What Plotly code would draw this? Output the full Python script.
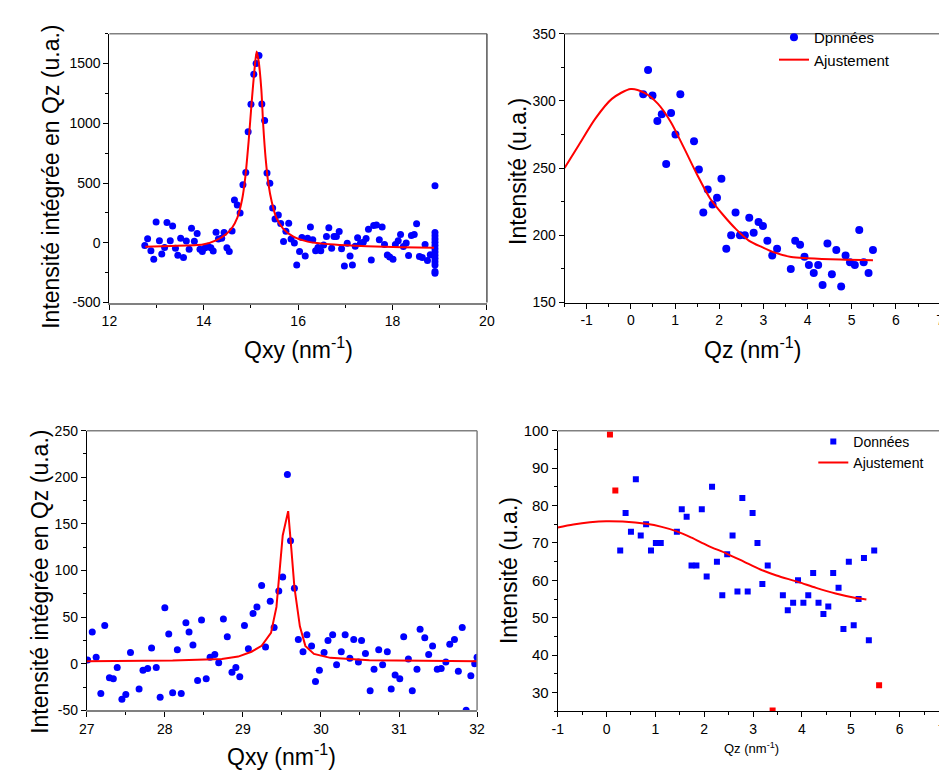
import plotly.graph_objects as go

W, H = 947, 771

# ---------------- Panel 1 (top-left) ----------------
p1_qxy = [12.75, 12.81, 12.88, 12.94, 12.99, 13.06, 13.11, 13.17, 13.22, 13.29, 13.34, 13.40,
          13.45, 13.51, 13.57, 13.63, 13.69, 13.74, 13.80, 13.86, 13.92, 13.97, 14.03, 14.09,
          14.15, 14.20, 14.26, 14.31, 14.38, 14.43, 14.49, 14.54, 14.60, 14.65, 14.71, 14.77,
          14.83, 14.89, 14.94, 15.00, 15.06, 15.11, 15.17, 15.23, 15.29, 15.34, 15.40, 15.46,
          15.51, 15.58, 15.63, 15.69, 15.74, 15.80, 15.85, 15.92, 15.97, 16.03, 16.08, 16.15,
          16.20, 16.26, 16.31, 16.37, 16.42, 16.48, 16.54, 16.60, 16.65, 16.71, 16.76, 16.81,
          16.87, 16.92, 16.98, 17.04, 17.10, 17.15, 17.21, 17.26, 17.32, 17.38, 17.44, 17.49,
          17.55, 17.60, 17.66, 17.72, 17.78, 17.83, 17.89, 17.94, 18.01, 18.06, 18.12, 18.17,
          18.23, 18.29, 18.34, 18.40, 18.46, 18.51, 18.57, 18.63, 18.69, 18.74, 18.80,
          18.9, 18.9, 18.9, 18.9, 18.9, 18.9, 18.9, 18.9, 18.9, 18.9, 18.9, 18.9, 18.9, 18.9]
p1_int = [-23, 34, -67, -137, 175, 18, -94, -39, 170, 18, 140, -45,
          -104, 39, -124, 15, -53, 121, 12, 77, -53, -72, -42, -29,
          -42, -69, 88, 31, 39, 86, -42, -72, 99, 358, 317, 249,
          485, 589, 929, 1160, 1410, 1500, 1568, 1162, 1024, 583, 499, 292,
          200, 233, 162, 10, 97, 164, 31, -1, -186, -72, 45, -110,
          39, 132, 26, -67, -39, -67, -18, 53, 126, -45, 53, 53,
          94, -50, -194, -4, -110, -186, -29, 42, -4, 4, 37, 113,
          -143, 145, 148, 26, 132, -15, -102, -118, -137, -15, 18, 69,
          -31, -1, -107, 61, 69, 159, -115, -124, -15, -148, -99,
          477, 86, 58, 31, 4, -23, -50, -77, -105, -132, -159, -186, -240, -254]
p1_fit_qxy = [12.76, 13.3, 13.98, 14.26, 14.47, 14.6, 14.71, 14.81, 14.88, 14.95, 15.02, 15.08,
              15.12, 15.16, 15.22, 15.26, 15.31, 15.37, 15.44, 15.54, 15.68, 15.89, 16.2, 16.76,
              17.45, 18.2, 18.88]
p1_fit_int = [-34, -27, -15, 20, 72, 126, 208, 358, 548, 847, 1200, 1472,
              1600, 1527, 1282, 983, 711, 493, 344, 208, 118, 53, 10, -15,
              -29, -37, -42]

# ---------------- Panel 2 (top-right) ----------------
p2_qz = [0.28, 0.39, 0.49, 0.60, 0.70, 0.80, 0.91, 1.01, 1.12, 1.43, 1.54, 1.64, 1.74, 1.85,
         1.95, 2.05, 2.16, 2.27, 2.37, 2.47, 2.58, 2.68, 2.78, 2.89, 2.99, 3.09, 3.20, 3.31,
         3.62, 3.72, 3.83, 3.93, 4.03, 4.14, 4.24, 4.34, 4.45, 4.55, 4.65, 4.76, 4.86, 4.96,
         5.07, 5.17, 5.27, 5.38, 5.48]
p2_int = [305, 323, 304, 285, 290, 253, 291, 275, 305, 270, 249, 217, 234, 223,
          228, 242, 190, 200, 217, 200, 200, 213, 202, 210, 207, 196, 185, 190,
          175, 196, 193, 184, 178, 172, 178, 163, 194, 171, 189, 162, 185, 180,
          178, 204, 180, 172, 189]
p2_fit_qz = [-1.5, -1.17, -0.80, -0.43, 0.0, 0.31, 0.61, 0.90, 1.20, 1.49, 1.79, 2.08,
             2.38, 2.67, 2.97, 3.26, 3.63, 4.0, 4.74, 5.48]
p2_fit_int = [250.1, 267.6, 287.0, 301.5, 308.8, 305.9, 297.9, 284.5, 265.2, 245.8, 227.6, 215.5,
              204.6, 196.1, 191.2, 187.1, 183.9, 183.0, 182.0, 181.5]

# ---------------- Panel 3 (bottom-left) ----------------
p3_qxy = [27.01, 27.07, 27.12, 27.18, 27.23, 27.29, 27.34, 27.39, 27.45, 27.50, 27.56, 27.67,
          27.72, 27.78, 27.83, 27.89, 27.94, 28.00, 28.05, 28.10, 28.16, 28.21, 28.27, 28.31,
          28.36, 28.42, 28.47, 28.53, 28.58, 28.64, 28.69, 28.75, 28.80, 28.86, 28.91, 28.96,
          29.02, 29.07, 29.13, 29.18, 29.24, 29.29, 29.35, 29.40, 29.46, 29.51, 29.57, 29.61,
          29.66, 29.71, 29.77, 29.82, 29.88, 29.93, 29.98, 30.04, 30.09, 30.15, 30.20, 30.26,
          30.31, 30.37, 30.42, 30.48, 30.52, 30.57, 30.63, 30.68, 30.74, 30.79, 30.85, 30.90,
          30.95, 31.01, 31.06, 31.12, 31.17, 31.23, 31.27, 31.33, 31.38, 31.43, 31.49, 31.54,
          31.60, 31.65, 31.71, 31.76, 31.81, 31.86, 31.92, 31.97, 32.0]
p3_int = [4, 34, 7, -32, 41, -15, -16, -4, -38, -33, 12, -27,
          -7, -5, 17, -4, -36, 60, 32, -31, 15, -32, 44, 34,
          20, -18, 47, -16, 7, 10, 1, 48, 29, -9, -4, -14,
          41, 16, 54, 61, 84, 18, 67, 39, 78, 93, 203, 132,
          81, 26, 13, 31, 19, -19, -7, 12, 25, 31, -1, 13,
          31, 6, 26, 2, 25, 11, -29, -6, 15, -1, 13, -27,
          -12, -16, 29, 5, -29, -6, 37, 28, 10, 19, -6, -5,
          2, 21, 26, -8, 39, -50, -13, 0, 7]
p3_fit_qxy = [27.0, 28.10, 28.73, 28.94, 29.11, 29.24, 29.36, 29.43, 29.51, 29.58,
              29.62, 29.66, 29.73, 29.80, 29.91, 30.12, 30.62, 32.0]
p3_fit_int = [2.8, 3.5, 5.2, 7.7, 12.9, 19.2, 33.1, 61.0, 137.6, 163.7,
              123.7, 81.9, 40.1, 19.2, 10.5, 6.3, 3.8, 2.8]

# ---------------- Panel 4 (bottom-right) ----------------
p4_qz = [0.28, 0.39, 0.50, 0.60, 0.70, 0.81, 0.91, 1.01, 1.11, 1.44, 1.54, 1.64, 1.74, 1.84,
         1.95, 2.05, 2.16, 2.26, 2.37, 2.47, 2.58, 2.68, 2.78, 2.89, 2.99, 3.09, 3.19, 3.30,
         3.61, 3.71, 3.82, 3.92, 4.03, 4.13, 4.23, 4.34, 4.44, 4.54, 4.64, 4.75, 4.85, 4.96,
         5.06, 5.16, 5.27, 5.37, 5.48]
p4_int = [68, 78, 73, 87, 72, 75, 68, 70, 70, 73, 79, 77, 64, 64,
          79, 61, 85, 65, 56, 67, 72, 57, 82, 57, 78, 70, 59, 64,
          56, 52, 54, 60, 54, 56, 62, 54, 51, 53, 62, 58, 47, 65,
          48, 55, 66, 44, 68]
p4_masked_qz = [0.07, 0.18, 3.40, 5.58]
p4_masked_int = [99, 84, 25.2, 32]
p4_fit_qz = [-1.0, -0.68, -0.34, -0.01, 0.33, 0.81, 1.13, 1.44, 1.74, 2.07, 2.47, 2.81,
             3.15, 3.48, 3.92, 4.29, 4.69, 5.03, 5.32]
p4_fit_int = [74.1, 74.9, 75.5, 75.8, 75.7, 75.1, 74.3, 73.1, 71.4, 69.3, 67.1, 65.0,
              62.9, 61.3, 59.6, 58.0, 56.5, 55.5, 54.9]

# ---------------- tick labels ----------------
p1_xticks = [12, 14, 16, 18, 20]
p1_xlabels = ["12", "14", "16", "18", "20"]
p1_yticks = [-500, 0, 500, 1000, 1500]
p1_ylabels = ["-500", "0", "500", "1000", "1500"]
p2_xticks = [-1, 0, 1, 2, 3, 4, 5, 6, 7]
p2_xlabels = ["-1", "0", "1", "2", "3", "4", "5", "6", "7"]
p2_yticks = [150, 200, 250, 300, 350]
p2_ylabels = ["150", "200", "250", "300", "350"]
p3_xticks = [27, 28, 29, 30, 31, 32]
p3_xlabels = ["27", "28", "29", "30", "31", "32"]
p3_yticks = [-50, 0, 50, 100, 150, 200, 250]
p3_ylabels = ["-50", "0", "50", "100", "150", "200", "250"]
p4_xticks = [-1, 0, 1, 2, 3, 4, 5, 6]
p4_xlabels = ["-1", "0", "1", "2", "3", "4", "5", "6"]
p4_last_xlabel = "7"
p4_yticks = [30, 40, 50, 60, 70, 80, 90, 100]
p4_ylabels = ["30", "40", "50", "60", "70", "80", "90", "100"]

# ---------------- labels ----------------
y_title_long = "Intensité intégrée en Qz (u.a.)"
y_title_short = "Intensité (u.a.)"
x_title_qxy = "Qxy (nm<sup>-1</sup>)"
x_title_qz = "Qz (nm<sup>-1</sup>)"
legend2_labels = ["Dpnnées", "Ajustement"]
legend4_labels = ["Données", "Ajustement"]

FONT = "Arial, Liberation Sans, sans-serif"
BLUE = "#0000FF"
RED = "#FF0000"


def px_x(p):
    return p / W


def px_y(p):
    return 1 - p / H


fig = go.Figure()

fig.add_trace(go.Scatter(x=p1_qxy, y=p1_int, mode="markers", xaxis="x", yaxis="y",
                         marker=dict(color=BLUE, size=7, symbol="circle"), showlegend=False))
fig.add_trace(go.Scatter(x=p1_fit_qxy, y=p1_fit_int, mode="lines", xaxis="x", yaxis="y",
                         line=dict(color=RED, width=2, shape="spline", smoothing=0.6),
                         showlegend=False))

fig.add_trace(go.Scatter(x=p2_qz, y=p2_int, mode="markers", xaxis="x2", yaxis="y2",
                         name=legend2_labels[0], legend="legend",
                         marker=dict(color=BLUE, size=8, symbol="circle")))
fig.add_trace(go.Scatter(x=p2_fit_qz, y=p2_fit_int, mode="lines", xaxis="x2", yaxis="y2",
                         name=legend2_labels[1], legend="legend",
                         line=dict(color=RED, width=2, shape="spline", smoothing=0.8)))

fig.add_trace(go.Scatter(x=p3_qxy, y=p3_int, mode="markers", xaxis="x3", yaxis="y3",
                         marker=dict(color=BLUE, size=7, symbol="circle"), showlegend=False))
fig.add_trace(go.Scatter(x=p3_fit_qxy, y=p3_fit_int, mode="lines", xaxis="x3", yaxis="y3",
                         line=dict(color=RED, width=2), showlegend=False))

fig.add_trace(go.Scatter(x=p4_qz, y=p4_int, mode="markers", xaxis="x4", yaxis="y4",
                         name=legend4_labels[0], legend="legend2",
                         marker=dict(color=BLUE, size=6, symbol="square")))
fig.add_trace(go.Scatter(x=p4_masked_qz, y=p4_masked_int, mode="markers", xaxis="x4", yaxis="y4",
                         marker=dict(color=RED, size=6, symbol="square"), showlegend=False))
fig.add_trace(go.Scatter(x=p4_fit_qz, y=p4_fit_int, mode="lines", xaxis="x4", yaxis="y4",
                         name=legend4_labels[1], legend="legend2",
                         line=dict(color=RED, width=2, shape="spline", smoothing=0.8)))


def ax(anchor, domain, rng, tickvals, ticktext, minor, fsize, linecolor="#000000", lw=1):
    return dict(anchor=anchor, domain=domain, range=rng, tickmode="array",
                tickvals=tickvals, ticktext=ticktext,
                showgrid=False, zeroline=False,
                showline=True, linecolor=linecolor, linewidth=lw, mirror=False,
                ticks="outside", ticklen=5, tickwidth=1, tickcolor="#000000",
                minor=dict(dtick=minor, tick0=0, ticks="outside", ticklen=3, tickcolor="#000000",
                           showgrid=False),
                tickfont=dict(family=FONT, size=fsize, color="#000000"))


p1x = [px_x(95), px_x(479)]
p1y = [px_y(292), px_y(17)]
p2x = [px_x(558), px_x(940)]
p3x = [px_x(72), px_x(469)]
p3y = [px_y(709), px_y(423)]
p4x = [px_x(551), 1.0]
p4y = [px_y(710), px_y(423)]

fig.update_layout(
    width=W, height=H, margin=dict(l=0, r=0, t=0, b=0),
    paper_bgcolor="white", plot_bgcolor="white",
    xaxis=ax("y", p1x, [12, 20], p1_xticks, p1_xlabels, 1, 14, "#808080", 2),
    yaxis=ax("x", p1y, [-500, 1750], p1_yticks, p1_ylabels, 250, 14),
    xaxis2=ax("y2", p2x, [-1.5, 7], p2_xticks, p2_xlabels, 0.5, 14),
    yaxis2=ax("x2", p1y, [150, 350], p2_yticks, p2_ylabels, 25, 14),
    xaxis3=ax("y3", p3x, [27, 32], p3_xticks, p3_xlabels, 0.5, 14, "#808080", 1.5),
    yaxis3=ax("x3", p3y, [-50, 250], p3_yticks, p3_ylabels, 25, 14),
    xaxis4=ax("y4", p4x, [-1, 6.97], p4_xticks, p4_xlabels, 0.5, 14),
    yaxis4=ax("x4", p4y, [25, 100], p4_yticks, p4_ylabels, 5, 15),
    legend=dict(x=px_x(771), y=px_y(4), xanchor="left", yanchor="top",
                bgcolor="rgba(0,0,0,0)", font=dict(family=FONT, size=15, color="#000000"),
                itemwidth=30, tracegroupgap=0),
    legend2=dict(x=px_x(811), y=px_y(418), xanchor="left", yanchor="top",
                 bgcolor="rgba(0,0,0,0)", font=dict(family=FONT, size=14, color="#000000"),
                 itemwidth=30, tracegroupgap=0),
)

# frame edges (top / right) in gray
frames = [("x", "y"), ("x2", "y2"), ("x3", "y3"), ("x4", "y4")]
for i, (xa, ya) in enumerate(frames):
    fig.add_shape(type="line", xref=f"{xa} domain", yref=f"{ya} domain", x0=0, x1=1, y0=1, y1=1,
                  line=dict(color="#808080", width=1.5))
    if i != 3:
        fig.add_shape(type="line", xref=f"{xa} domain", yref=f"{ya} domain", x0=1, x1=1, y0=0, y1=1,
                      line=dict(color="#555555" if i == 0 else "#808080", width=1.5))

ann = []
big = dict(family=FONT, size=23, color="#000000")
ann.append(dict(text=y_title_long, x=px_x(36), y=px_y(163), textangle=-90, font=big))
ann.append(dict(text=y_title_short, x=px_x(510), y=px_y(158), textangle=-90, font=big))
ann.append(dict(text=y_title_long, x=px_x(25), y=px_y(578), textangle=-90, font=big))
ann.append(dict(text=y_title_short, x=px_x(501), y=px_y(566), textangle=-90, font=big))
ann.append(dict(text=x_title_qxy, x=px_x(287), y=px_y(338), font=big))
ann.append(dict(text=x_title_qz, x=px_x(749), y=px_y(338), font=big))
ann.append(dict(text=x_title_qxy, x=px_x(270), y=px_y(755), font=big))
ann.append(dict(text=x_title_qz, x=px_x(748), y=px_y(747),
                font=dict(family=FONT, size=13, color="#000000")))
for a in ann:
    a.update(xanchor="center")
ann.append(dict(text=p4_last_xlabel, x=1.0, y=px_y(729), xanchor="right", borderpad=0,
                font=dict(family=FONT, size=14, color="#000000")))
for a in ann:
    a.update(xref="paper", yref="paper", showarrow=False, yanchor="middle")
fig.update_layout(annotations=ann)

fig.write_html("out.html")
